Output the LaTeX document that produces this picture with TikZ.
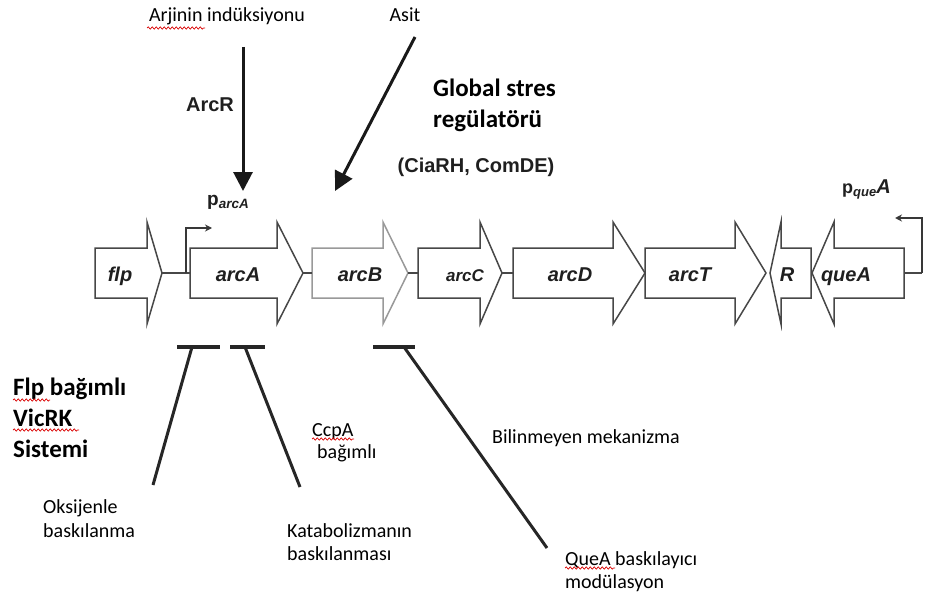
\documentclass[tikz,border=0pt]{standalone}
\usepackage{fontspec}
\usetikzlibrary{arrows.meta,decorations.pathmorphing}
\newfontfamily\calibf{Carlito}
\newfontfamily\arialf{Liberation Sans}

% gene arrow: [style]{name}{tail x}{head base x}{tip x}
\newcommand\genearrow[5][]{%
  \draw[gene,#1] (#3,248) -- (#4,248) -- (#4,222) -- (#5,273) -- (#4,324) -- (#4,298) -- (#3,298) -- cycle;
  \coordinate (#2-tail) at (#3,273);
  \coordinate (#2-tip) at (#5,273);
}

\begin{document}
\begin{tikzpicture}[x=1pt,y=-1pt,
  gene/.style={draw=black!72, line width=1.5pt, fill=white, line join=miter},
  genelink/.style={draw=black!72, line width=1.5pt},
  genelabel/.style={font=\arialf\bfseries\itshape\fontsize{20}{24}\selectfont, inner sep=0pt, anchor=base, text=black!88},
  prom/.style={draw=black!78, line width=1.5pt, -{Stealth[length=7pt,width=7pt]}},
  signal/.style={draw=black!90, line width=3pt, -{Triangle[length=19pt,width=19pt]}},
  repbar/.style={draw=black!85, line width=3.5pt},
  repline/.style={draw=black!85, line width=3pt},
  lbl/.style={font=\calibf\fontsize{20}{23}\selectfont, inner sep=0pt, anchor=base west, text=black},
  biglbl/.style={font=\calibf\bfseries\fontsize{25}{30}\selectfont, inner sep=0pt, anchor=base west, text=black},
  arlbl/.style={font=\arialf\bfseries\fontsize{20}{24}\selectfont, inner sep=0pt, anchor=base, text=black!88},
  spell/.style={draw=red!85!black, line width=0.7pt, decorate, decoration={snake, segment length=4pt, amplitude=1.1pt}}
]
\useasboundingbox (0,0) rectangle (926,599);

% ---- operon ----
\genearrow{flp}{95}{147}{162}
\genearrow{arcA}{190}{277}{303}
\genearrow[draw=black!40]{arcB}{312}{383}{408}
\genearrow{arcC}{418}{480}{502}
\genearrow{arcD}{513}{613}{645}
\genearrow{arcT}{645}{735}{766}
\genearrow{R}{811}{781}{770}
\genearrow{queA}{904}{834}{812}

\draw[genelink] (flp-tip) -- (arcA-tail);
\draw[genelink] (arcA-tip) -- (arcB-tail);
\draw[genelink] (arcB-tip) -- (arcC-tail);
\draw[genelink] (arcC-tip) -- (arcD-tail);

\node[genelabel] (flpL)  at (120,281) {flp};
\node[genelabel] (arcAL) at (238,281) {arcA};
\node[genelabel] (arcBL) at (360,281) {arcB};
\node[genelabel, font=\arialf\bfseries\itshape\fontsize{17}{20}\selectfont] (arcCL) at (465,281) {arcC};
\node[genelabel] (arcDL) at (570,281) {arcD};
\node[genelabel] (arcTL) at (690,281) {arcT};
\node[genelabel] (RL)    at (787,281) {R};
\node[genelabel] (queAL) at (846,281) {queA};

% ---- promoters ----
\coordinate (pA) at (186,273);
\coordinate (pAend) at (212,228);
\draw[prom] (pA) |- (pAend);
\node[inner sep=0pt, anchor=base west, text=black!88] (pArcA) at (207,205)
  {\arialf\bfseries\fontsize{19}{20}\selectfont p\fontsize{13.5}{14}\selectfont\itshape\raisebox{-3pt}{arcA}};

\coordinate (pQ) at (922,273);
\coordinate (pQend) at (895,218);
\draw[genelink] (queA-tail) -- (pQ);
\draw[prom] (pQ) |- (pQend);
\node[inner sep=0pt, anchor=base west, text=black!88] (pQueA) at (842,193)
  {\arialf\bfseries\fontsize{18}{20}\selectfont p\fontsize{13}{14}\selectfont\itshape\raisebox{-3pt}{que}\fontsize{20}{22}\selectfont A};

% ---- inducing signals ----
\node[lbl, anchor=base] (arj) at (227,22) {Arjinin indüksiyonu};
\node[lbl, anchor=base] (asit) at (405,22) {Asit};
\node[arlbl] (arcR) at (210,112) {ArcR};
\coordinate (arcRs) at (243,47);
\coordinate (arcRe) at (243,191);
\draw[signal] (arcRs) -- (arcRe);
\coordinate (asits) at (415,37);
\coordinate (asite) at (335,191);
\draw[signal] (asits) -- (asite);

\node[biglbl] (glob1) at (433,97) {Global stres};
\node[biglbl] (glob2) at (433,128) {regülatörü};
\node[arlbl] (cia) at (476,172) {(CiaRH, ComDE)};

% ---- repressions ----
\coordinate (b1L) at (177,347); \coordinate (b1R) at (220,347);
\coordinate (b1m) at (192,347); \coordinate (b1e) at (153,485);
\draw[repbar] (b1L) -- (b1R);
\draw[repline] (b1m) -- (b1e);

\coordinate (b2L) at (230,347); \coordinate (b2R) at (265,347);
\coordinate (b2m) at (245,347); \coordinate (b2e) at (300,487);
\draw[repbar] (b2L) -- (b2R);
\draw[repline] (b2m) -- (b2e);

\coordinate (b3L) at (373,347); \coordinate (b3R) at (415,347);
\coordinate (b3m) at (404,347); \coordinate (b3e) at (547,548);
\draw[repbar] (b3L) -- (b3R);
\draw[repline] (b3m) -- (b3e);

\node[biglbl] (flp1) at (13,395) {Flp bağımlı};
\node[biglbl] (flp2) at (13,426) {VicRK};
\node[biglbl] (flp3) at (13,457) {Sistemi};

\node[lbl] (ccp1) at (312,436) {CcpA};
\node[lbl] (ccp2) at (317,458) {bağımlı};

\node[lbl] (oks1) at (43,513) {Oksijenle};
\node[lbl] (oks2) at (43,537) {baskılanma};

\node[lbl] (kat1) at (287,537) {Katabolizmanın};
\node[lbl] (kat2) at (287,560) {baskılanması};

\node[lbl] (bil) at (492,443) {Bilinmeyen mekanizma};

\node[lbl] (que1) at (565,565) {QueA baskılayıcı};
\node[lbl] (que2) at (565,588) {modülasyon};

% ---- spell-check underlines ----
\draw[spell] (147,28) -- (205,28);
\draw[spell] (13,400) -- (50,400);
\draw[spell] (13,430) -- (79,430);
\draw[spell] (312,439) -- (354,439);
\draw[spell] (565,568) -- (615,568);
\end{tikzpicture}
\end{document}
